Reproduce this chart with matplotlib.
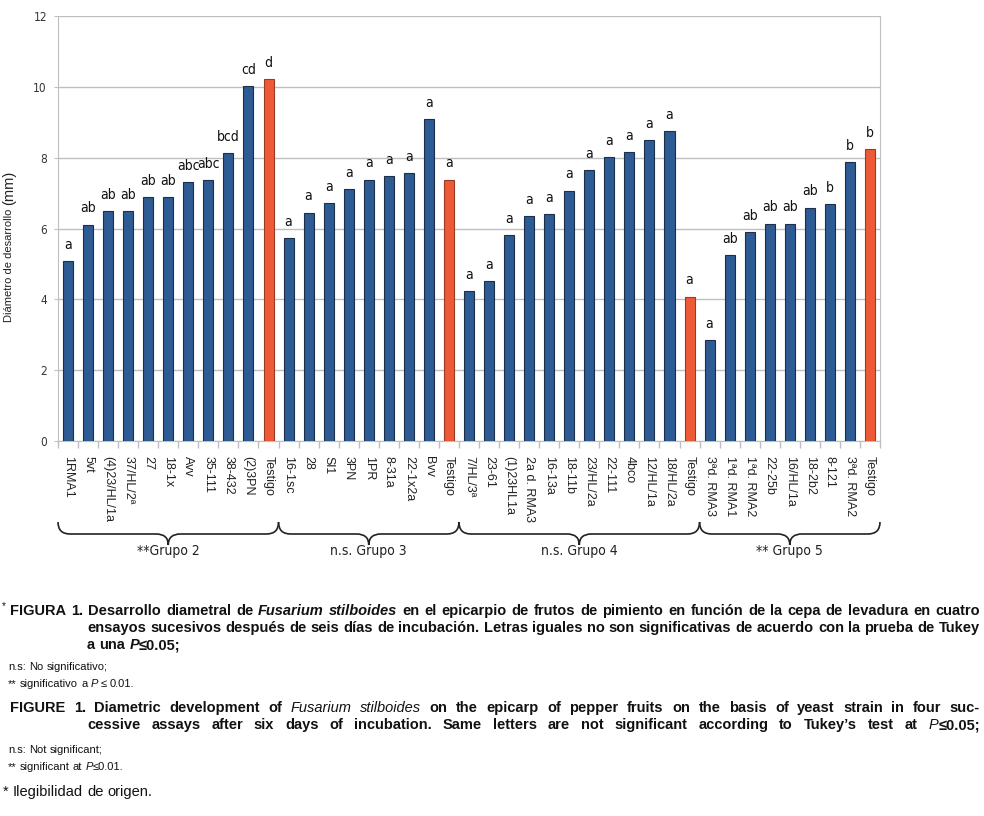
import numpy as np
import matplotlib
matplotlib.use('Agg')
import matplotlib.pyplot as plt
from matplotlib import font_manager, transforms
from matplotlib.path import Path
from matplotlib.patches import PathPatch

# ---------------- data ----------------
group_names = ['**Grupo 2', 'n.s. Grupo 3', 'n.s. Grupo 4', '** Grupo 5']

g2_labels = ['1RMA1', '5vt', '(4)23/HL/1a', '37/HL/2ª', '27', '18-1x', 'Avv',
             '35-111', '38-432', '(2)3PN', 'Testigo']
g2_values = [5.08, 6.10, 6.49, 6.49, 6.88, 6.88, 7.30, 7.36, 8.12, 10.02, 10.21]
g2_letters = ['a', 'ab', 'ab', 'ab', 'ab', 'ab', 'abc', 'abc', 'bcd', 'cd', 'd']

g3_labels = ['16-1sc', '28', 'Sl1', '3PN', '1PR', '8-31a', '22-1x2a', 'Bvv', 'Testigo']
g3_values = [5.72, 6.45, 6.71, 7.11, 7.37, 7.47, 7.56, 9.08, 7.37]
g3_letters = ['a', 'a', 'a', 'a', 'a', 'a', 'a', 'a', 'a']

g4_labels = ['7/HL/3ª', '23-61', '(1)23HL1a', '2a d. RMA3', '16-13a', '18-11b',
             '23/HL/2a', '22-111', '4bco', '12/HL/1a', '18/HL/2a', 'Testigo']
g4_values = [4.23, 4.51, 5.81, 6.34, 6.40, 7.06, 7.65, 8.01, 8.16, 8.49, 8.74, 4.08]
g4_letters = ['a', 'a', 'a', 'a', 'a', 'a', 'a', 'a', 'a', 'a', 'a', 'a']

g5_labels = ['3ªd. RMA3', '1ªd. RMA1', '1ªd. RMA2', '22-25b', '16/HL/1a', '18-2b2',
             '8-121', '3ªd. RMA2', 'Testigo']
g5_values = [2.85, 5.24, 5.89, 6.14, 6.14, 6.59, 6.68, 7.87, 8.24]
g5_letters = ['a', 'ab', 'ab', 'ab', 'ab', 'ab', 'b', 'b', 'b']

yticks = [0, 2, 4, 6, 8, 10, 12]
ylabel_main = 'Diámetro de desarrollo'
ylabel_unit = '(mm)'

# ---------------- fonts ----------------
_fl = font_manager.fontManager.ttflist
_names = {f.name for f in _fl}
if 'Liberation Sans Narrow' in _names:
    NFAM, NSTR, NARROW = ['Liberation Sans Narrow', 'DejaVu Sans'], 'normal', True
elif any(f.name == 'DejaVu Sans' and f.stretch == 'condensed' for f in _fl):
    NFAM, NSTR, NARROW = ['DejaVu Sans'], 'condensed', True
else:
    NFAM, NSTR, NARROW = ['Liberation Sans', 'DejaVu Sans'], 'normal', False
SFAM = ['Liberation Sans', 'DejaVu Sans']

BLUE, BLUE_E = '#2D5B94', '#1C2E48'
RED, RED_E = '#EE5A37', '#9C3A22'
GRID = '#BFBFBF'

W, H = 984, 816
def fx(px): return px / W
def fy(py): return 1 - py / H

fig = plt.figure(figsize=(W / 100, H / 100), dpi=100)
fig.patch.set_facecolor('white')
ax = fig.add_axes([fx(58), fy(441), (880 - 58) / W, (441 - 16) / H])

labels = g2_labels + g3_labels + g4_labels + g5_labels
values = g2_values + g3_values + g4_values + g5_values
letters = g2_letters + g3_letters + g4_letters + g5_letters
sizes = [len(g2_labels), len(g3_labels), len(g4_labels), len(g5_labels)]
n = len(labels)
x = np.arange(n)
is_ctrl = [lab == 'Testigo' for lab in labels]
colors = [RED if c else BLUE for c in is_ctrl]
ecolors = [RED_E if c else BLUE_E for c in is_ctrl]

ax.bar(x, values, width=0.5, color=colors, edgecolor=ecolors, linewidth=0.8, zorder=3)
LSIZE = 10
for xi, v, l in zip(x, values, letters):
    ax.annotate(l, (xi, v), xytext=(0, 9), textcoords='offset points',
                ha='center', va='baseline', fontsize=LSIZE, family=NFAM,
                stretch=NSTR, color='#111111')

ax.set_xlim(-0.5, n - 0.5)
ax.set_ylim(0, 12)
ax.set_yticks(yticks)
ax.yaxis.grid(True, color=GRID, linewidth=1.0, zorder=0)
ax.set_axisbelow(True)
ax.set_xticks(x)
ax.set_xticklabels(labels, rotation=270, ha='center', va='top', fontsize=9,
                   family=SFAM, color='#222222')
ax.tick_params(axis='x', which='major', length=0, pad=11)
ax.set_xticks(np.arange(-0.5, n, 1.0), minor=True)
ax.tick_params(axis='x', which='minor', length=5, color=GRID, width=1)
ax.tick_params(axis='y', length=3, color=GRID, pad=5, labelsize=8.5,
               labelcolor='#333333')
for t in ax.get_yticklabels():
    t.set_family(NFAM)
    t.set_stretch(NSTR)
for s in ['left', 'bottom', 'right']:
    ax.spines[s].set_color(GRID)
ax.spines['top'].set_visible(False)

# ---------------- y label ----------------
r = fig.canvas.get_renderer()
t1 = fig.text(fx(9), fy(322), ylabel_main, rotation=90, ha='center', va='bottom',
              fontsize=8, family=SFAM, color='#222222')
h1 = t1.get_window_extent(r).height
fig.text(fx(9), fy(322 - h1 - 4), ylabel_unit, rotation=90, ha='center', va='bottom',
         fontsize=10.5, family=SFAM, color='#222222')

# ---------------- braces ----------------
trans = transforms.blended_transform_factory(ax.transData, fig.transFigure)
yt, ym, yb = fy(522), fy(534), fy(545)
start = 0
for name, sz in zip(group_names, sizes):
    x0, x1 = start - 0.5, start + sz - 0.5
    xc = (x0 + x1) / 2
    d = 0.6
    verts = [(x0, yt), (x0, ym), (x0 + d, ym), (xc - d, ym), (xc, ym), (xc, yb),
             (xc, ym), (xc + d, ym), (x1 - d, ym), (x1, ym), (x1, yt)]
    codes = [Path.MOVETO, Path.CURVE3, Path.CURVE3, Path.LINETO, Path.CURVE3,
             Path.CURVE3, Path.CURVE3, Path.CURVE3, Path.LINETO, Path.CURVE3, Path.CURVE3]
    fig.add_artist(PathPatch(Path(verts, codes), transform=trans, fill=False,
                             edgecolor='#222222', linewidth=1.2, clip_on=False))
    fig.text(xc, fy(551), name, transform=trans, ha='center', va='center',
             fontsize=10 if NARROW else 9, family=NFAM, stretch=NSTR, color='#222222')
    start += sz

# ---------------- caption ----------------
def tokenize(s):
    words, cur, buf, ital = [], [], '', False
    for ch in s:
        if ch == '_':
            if buf:
                cur.append((buf, ital)); buf = ''
            ital = not ital
        elif ch == ' ':
            if buf:
                cur.append((buf, ital)); buf = ''
            if cur:
                words.append(cur); cur = []
        else:
            buf += ch
    if buf:
        cur.append((buf, ital))
    if cur:
        words.append(cur)
    return words

def text_w(s, **kw):
    t = fig.text(0, 0, s, **kw)
    w = t.get_window_extent(r).width
    t.remove()
    return w

def draw_line(s, x0, ybase, size, weight='bold', ital_weight=None, x1=None,
              family=SFAM):
    if ital_weight is None:
        ital_weight = weight
    words = tokenize(s)
    objs = []
    for w in words:
        runs = []
        for txt, it in w:
            t = fig.text(0, fy(ybase), txt, fontsize=size,
                         weight=ital_weight if it else weight,
                         style='italic' if it else 'normal', family=family,
                         va='baseline', ha='left', color='#111111')
            runs.append(t)
        objs.append(runs)
    widths = [[t.get_window_extent(r).width for t in runs] for runs in objs]
    space = (text_w('a a', fontsize=size, weight=weight, family=family) -
             text_w('aa', fontsize=size, weight=weight, family=family))
    total = sum(sum(ws) for ws in widths)
    if x1 is not None and len(words) > 1:
        gap = (x1 - x0 - total) / (len(words) - 1)
    else:
        gap = space
    xx = x0
    for runs, ws in zip(objs, widths):
        xr = xx
        for t, w in zip(runs, ws):
            t.set_x(fx(xr))
            xr += w
        xx += sum(ws) + gap

es1 = ('FIGURA 1. Desarrollo diametral de _Fusarium stilboides_ en el epicarpio de frutos '
       'de pimiento en función de la cepa de levadura en cuatro')
es2 = ('ensayos sucesivos después de seis días de incubación. Letras iguales no son '
       'significativas de acuerdo con la prueba de Tukey')
es3 = 'a una _P_≤0.05;'
en1 = ('FIGURE 1. Diametric development of _Fusarium stilboides_ on the epicarp of pepper '
       'fruits on the basis of yeast strain in four suc-')
en2 = ('cessive assays after six days of incubation. Same letters are not significant '
       'according to Tukey’s test at _P_≤0.05;')

BS = 10.5
nat = text_w(es1.replace('_', ''), fontsize=BS, weight='bold', family=SFAM)
if nat > 960:
    BS = BS * 960 / nat

fig.text(fx(2), fy(609), '*', fontsize=7, family=SFAM, va='baseline', color='#111111')
draw_line(es1, 10, 615, BS, x1=980)
draw_line(es2, 87, 632, BS, x1=980)
draw_line(es3, 87, 649, BS)
RS = 8
draw_line('n.s: No significativo;', 8, 670, RS, weight='normal')
draw_line('** significativo a _P_ ≤ 0.01.', 8, 687, RS, weight='normal')
draw_line(en1, 10, 712, BS, ital_weight='normal', x1=980)
draw_line(en2, 87, 729, BS, ital_weight='normal', x1=980)
draw_line('n.s: Not significant;', 8, 753, RS, weight='normal')
draw_line('** significant at _P_≤0.01.', 8, 770, RS, weight='normal')
draw_line('* Ilegibilidad de origen.', 3, 796, 10.5, weight='normal')

fig.savefig('out.png', dpi=100, facecolor='white')
